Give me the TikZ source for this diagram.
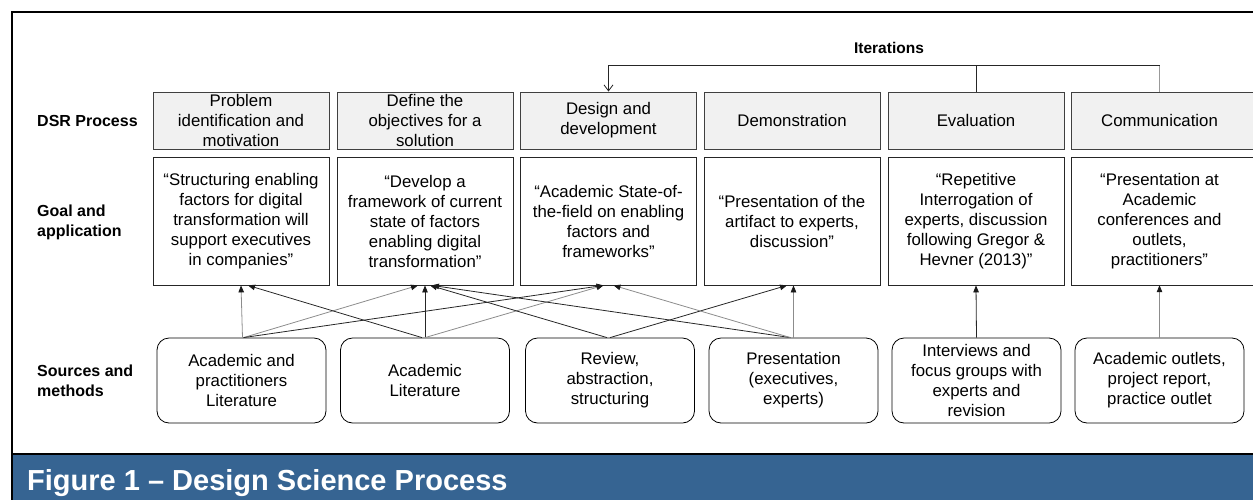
\documentclass[tikz,border=0pt]{standalone}
\usepackage{fontspec}
\setmainfont{Liberation Sans}
\usetikzlibrary{arrows.meta}
\definecolor{capblue}{RGB}{54,100,146}
\definecolor{procfill}{RGB}{241,241,241}

\begin{document}
\begin{tikzpicture}[x=1pt,y=-1pt,
  boxtext/.style={font=\fontsize{16.8}{20}\selectfont, align=center, inner sep=0pt},
  proc/.style={boxtext, draw=black!75, fill=procfill, line width=0.9pt,
    minimum width=176pt, minimum height=57pt},
  procshape/.style={draw=black!75, fill=procfill, line width=0.9pt},
  goal/.style={boxtext, draw=black!85, fill=white, line width=0.8pt,
    minimum width=176pt, minimum height=128pt},
  goalshape/.style={draw=black!85, fill=white, line width=0.8pt},
  src/.style={boxtext, draw=black, line width=0.8pt, rounded corners=12pt,
    minimum width=169pt, minimum height=85pt},
  rowlabel/.style={font=\bfseries\fontsize{16}{20}\selectfont, align=left,
    anchor=west, inner sep=0pt},
  link/.style={-{Triangle[length=7pt,width=5.5pt,color=black!90]}, line width=0.8pt},
  dark/.style={draw=black!85},
  light/.style={draw=black!45},
  iter/.style={line width=0.8pt, draw=black!85}
]
\useasboundingbox (0,0) rectangle (1253,499);
\clip (0,0) rectangle (1253,499);

% caption bar and frame
\fill[capblue] (12,455) rectangle (1260,505);
\draw[line width=2pt] (12,12) -- (1260,12);
\draw[line width=2pt] (12,11) -- (12,505);
\draw[line width=2.6pt] (12,454) -- (1260,454);
\node[anchor=base west, inner sep=0pt, text=white,
  font=\bfseries\fontsize{29}{32}\selectfont] (caption) at (27,490)
  {Figure 1 -- Design Science Process};

% row labels
\node[rowlabel] (lproc) at (37,121) {DSR Process};
\node[rowlabel] (lgoal) at (37,222) {Goal and\\application};
\node[rowlabel] (lsrc) at (37,381) {Sources and\\methods};

% DSR process steps
\node[proc] (c1) at (241,120.5) {Problem\\identification and\\motivation};
\node[proc] (c2) at (425,120.5) {Define the\\objectives for a\\solution};
\node[proc] (c3) at (608.5,120.5) {Design and\\development};
\node[proc] (c4) at (792,120.5) {Demonstration};
\node[proc] (c5) at (976,120.5) {Evaluation};
\path[procshape] (1071.5,92) rectangle (1262,149);
\node[boxtext, minimum width=176pt, minimum height=57pt] (c6) at (1159.5,120.5) {Communication};

% goals and applications
\node[goal] (g1) at (241,221) {“Structuring enabling\\factors for digital\\transformation will\\support executives\\in companies”};
\node[goal] (g2) at (425,221) {“Develop a\\framework of current\\state of factors\\enabling digital\\transformation”};
\node[goal] (g3) at (608.5,221) {“Academic State-of-\\the-field on enabling\\factors and\\frameworks”};
\node[goal] (g4) at (792,221) {“Presentation of the\\artifact to experts,\\discussion”};
\node[goal] (g5) at (976,221) {“Repetitive\\Interrogation of\\experts, discussion\\following Gregor \&\\Hevner (2013)”};
\path[goalshape] (1071.5,157) rectangle (1262,285);
\node[boxtext, minimum width=176pt, minimum height=128pt] (g6) at (1159.5,221) {“Presentation at\\Academic\\conferences and\\outlets,\\practitioners”};

% sources and methods
\node[src] (s1) at (241.5,380.5) {Academic and\\practitioners\\Literature};
\node[src] (s2) at (425,380.5) {Academic\\Literature};
\node[src] (s3) at (610,380.5) {Review,\\abstraction,\\structuring};
\node[src] (s4) at (793.5,380.5) {Presentation\\(executives,\\experts)};
\node[src] (s5) at (976.5,380.5) {Interviews and\\focus groups with\\experts and\\revision};
\node[src] (s6) at (1159.5,380.5) {Academic outlets,\\project report,\\practice outlet};

% iteration loop
\coordinate (itop) at (0,65);
\node[font=\bfseries\fontsize{15.5}{20}\selectfont, inner sep=0pt] (iterlabel) at (889,48) {Iterations};
\draw[iter, draw=black!40] (c6.north) -- (c6.north |- itop);
\draw[iter] (c6.north |- itop) -- (c3.north |- itop);
\draw[iter, -{Straight Barb[length=6pt,width=9pt]}] (c3.north |- itop) -- (c3.north);
\draw[iter] (c5.north) -- (c5.north |- itop);

% links from sources to goals
\draw[link, light] ([xshift=1pt]s1.north) -- (g1.south);
\draw[link, light] ([xshift=2pt]s1.north) -- ([xshift=-7pt]g2.south);
\draw[link, dark]  ([xshift=2pt]s1.north) -- ([xshift=-5pt]g3.south);
\draw[link, dark]  ([xshift=-3pt]s2.north) -- ([xshift=7pt]g1.south);
\draw[link, dark]  (s2.north) -- (g2.south);
\draw[link, light] (s2.north) -- ([xshift=-5pt]g3.south);
\draw[link, dark]  ([xshift=-3pt]s3.north) -- ([xshift=5pt]g2.south);
\draw[link, dark]  (s3.north) -- ([xshift=-5pt]g4.south);
\draw[link, dark]  ([xshift=-3pt]s4.north) -- ([xshift=7pt]g2.south);
\draw[link, light] ([xshift=-3pt]s4.north) -- ([xshift=5pt]g3.south);
\draw[link, light] (s4.north) -- ([xshift=1.5pt]g4.south);
\draw[link, dark]  (s5.north) -- (g5.south);
\draw[link, light] (s6.north) -- (g6.south);
\end{tikzpicture}
\end{document}
